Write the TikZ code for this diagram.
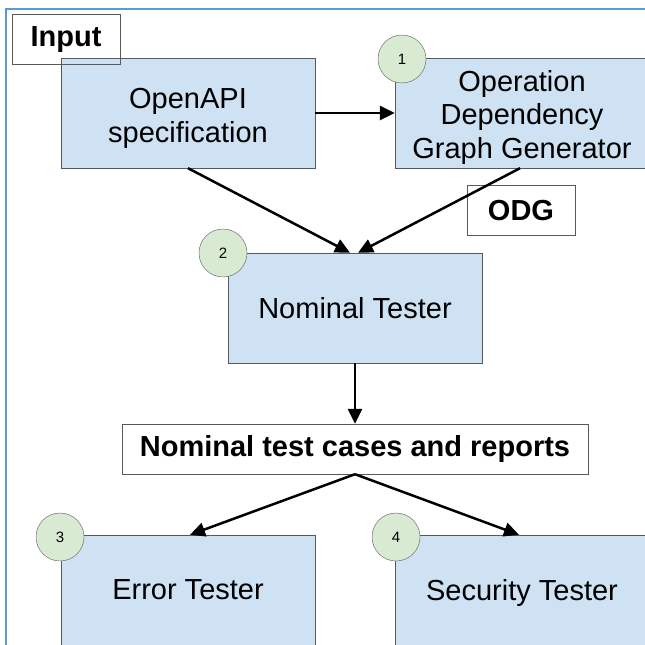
\documentclass[tikz,border=0pt]{standalone}
\usepackage{fontspec}
\setmainfont{Liberation Sans}
\usetikzlibrary{arrows.meta}
\definecolor{boxblue}{HTML}{CFE2F3}
\definecolor{stepgreen}{HTML}{D9EAD3}
\definecolor{frameblue}{HTML}{5B9BD5}
\definecolor{edgegray}{HTML}{595959}

\begin{document}
\begin{tikzpicture}[x=1pt,y=-1pt,
        font=\fontsize{29}{33.5}\selectfont,
        box/.style={draw=edgegray,fill=boxblue,minimum width=254,minimum height=110,inner sep=0,text depth=0,align=center},
        tag/.style={draw=edgegray,minimum height=50,inner sep=0,font=\fontsize{29}{33.5}\selectfont\bfseries},
        stepnum/.style={circle,draw=edgegray,fill=stepgreen,minimum size=48,inner sep=0,font=\fontsize{15}{18}\selectfont},
        conn/.style={line width=2.5pt,-{Triangle[length=15pt,width=14pt]}}]
                \useasboundingbox (0,0) rectangle (645,645);
                \clip (0,0) rectangle (645,645);
                \draw[frameblue,line width=1.8pt](6,9)rectangle(700,700);
                % boxes
                \node[box,text height=64,text depth=6] (openapi) at (188,113){OpenAPI\\specification};
                \node[box,text height=96,text depth=6] (odggen) at (522,113){Operation\\Dependency\\Graph Generator};
                \node[box] (nominal) at (355,308){Nominal Tester};
                \node[box] (error) at (188,590){Error Tester};
                \node[box] (security) at (522,590){Security Tester};
                % labels
                \node[tag,minimum width=108] (input) at (66,39.5){Input};
                \node[tag,minimum width=108] (odg) at (521,210.5){ODG};
                \node[tag,minimum width=466] (results) at (355,449){Nominal test cases and reports};
                % arrows
                \draw[conn](openapi.east)--(odggen.west);
                \draw[conn](openapi.south)--([xshift=-5pt]nominal.north);
                \draw[conn]([xshift=-2pt]odggen.south)--([xshift=3pt]nominal.north);
                \draw[conn](nominal.south)--(results.north);
                \draw[conn](results.south)--([xshift=2pt]error.north);
                \draw[conn](results.south)--([xshift=-3pt]security.north);
                % steps
                \node[stepnum] (s1) at (402,59){1};
                \node[stepnum] (s2) at (223,253){2};
                \node[stepnum] (s3) at (60,537){3};
                \node[stepnum] (s4) at (396,537){4};
            \end{tikzpicture}
\end{document}
